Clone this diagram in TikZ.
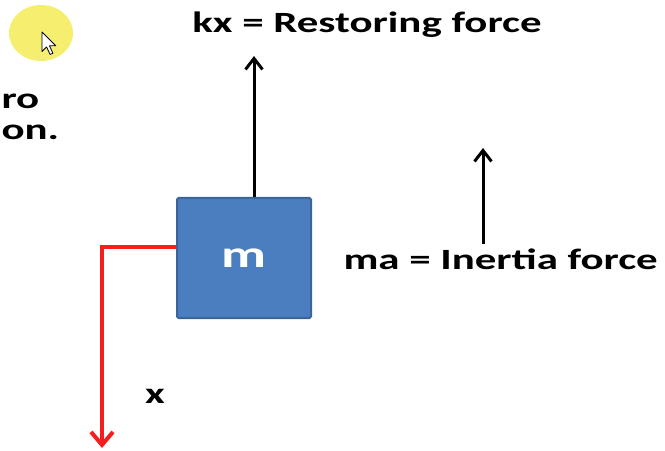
\documentclass[tikz,border=0pt]{standalone}
\usepackage{fontspec}
\setmainfont{Carlito}[FakeStretch=1.46]
\usepackage{xcolor}
\usepackage{tikz}
\usetikzlibrary{arrows.meta,calc}

\definecolor{massblue}{HTML}{4A7EBF}
\definecolor{massedge}{HTML}{3A659B}
\definecolor{pointeryellow}{HTML}{F6EE6E}
\definecolor{axisred}{HTML}{F41E1E}

\begin{document}
\begin{tikzpicture}[x=1bp, y=-1bp, line width=3bp,
	>={Straight Barb[length=11bp,width=17bp,line width=3bp]},
	lbl/.style={font=\fontsize{29.5}{34}\selectfont\bfseries, inner sep=0pt}]

\useasboundingbox (0,0) rectangle (665,451);
\clip (0,0) rectangle (665,451);

% pointer highlight
\fill[pointeryellow] (41,33) ellipse [x radius=32, y radius=28];
\draw[fill=white, line width=0.8bp, line join=round, shift={(42,32)}, scale=1.15]
	(0,0) -- (0,17) -- (4,13) -- (7,19.5) -- (9.5,18.5) -- (6.5,12) -- (12,12) -- cycle;

% text at the left edge
\node[lbl, anchor=west] (cutA) at (0,101) {ro};
\node[lbl, anchor=west] (cutB) at (0,132) {on.};

% the mass
\node[draw=massedge, fill=massblue, line width=2bp, rounded corners=1.5bp,
	minimum width=134bp, minimum height=120bp, text=white, lbl,
	font=\fontsize{38}{40}\selectfont\bfseries] (mass) at (244,258) {m};

% restoring force
\node[lbl] (kx) at (367,25) {kx = Restoring force};
\coordinate (kxtip) at (254,56);
\draw[->] (mass.north -| kxtip) -- (kxtip);

% inertia force
\node[lbl, anchor=west] (ma) at (342,259) {ma = Inertia force};
\coordinate (mabot) at (483,244);
\coordinate (matip) at (483,148);
\draw[->] (mabot) -- (matip);

% displacement
\coordinate (xcorner) at (102,247);
\coordinate (xtip) at (102,448);
\draw[->, axisred, line width=4bp, >={Straight Barb[length=13bp,width=22bp,line width=4bp]}]
	(mass.west |- xcorner) -- (xcorner) -- (xtip);
\node[lbl] (xlbl) at (155,396) {x};

\end{tikzpicture}
\end{document}
